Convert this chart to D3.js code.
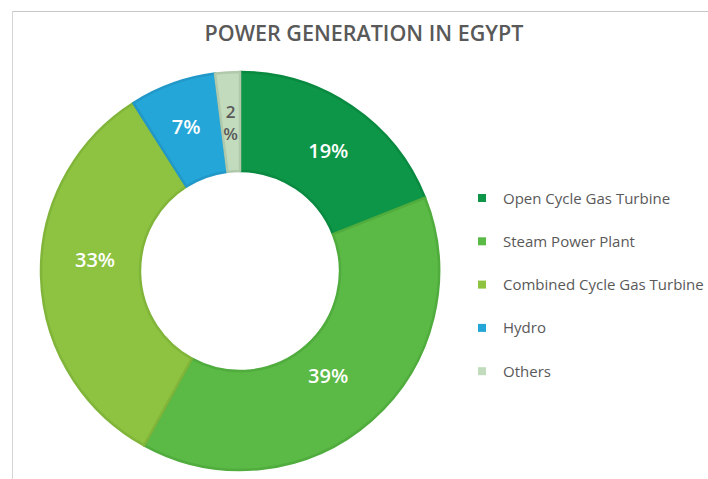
<!DOCTYPE html>
<html>
<head>
<meta charset="utf-8">
<script src="https://cdn.jsdelivr.net/npm/d3@7"></script>
<style>
  html, body { margin: 0; padding: 0; background: #fff; }
  svg { display: block; }
</style>
</head>
<body>
<svg id="chart" width="708" height="479"></svg>
<script>
const categories = ["Open Cycle Gas Turbine", "Steam Power Plant", "Combined Cycle Gas Turbine", "Hydro", "Others"];
const values = [19, 39, 33, 7, 2];
const fills = ["#0d9648", "#5bb946", "#8dc340", "#24a6d8", "#c3dbbd"];
const strokes = ["#0a8a40", "#4fac3d", "#80b53a", "#2198c8", "#b0c9aa"];
const labelColors = ["#ffffff", "#ffffff", "#ffffff", "#ffffff", "#595959"];
const labelNudge = [[4, 4], [-11, -8], [5, -16], [-3, -3], [0, 0]];
const title = "POWER GENERATION IN EGYPT";

const svg = d3.select("#chart");
const font = "'Open Sans', 'Noto Sans', sans-serif";

// frame
svg.append("line").attr("x1", 12).attr("x2", 708).attr("y1", 11.5).attr("y2", 11.5)
  .attr("stroke", "#c6c6c6").attr("stroke-width", 1);
svg.append("line").attr("x1", 12.5).attr("x2", 12.5).attr("y1", 11).attr("y2", 479)
  .attr("stroke", "#d6d6d6").attr("stroke-width", 1);

svg.append("text").attr("x", 364).attr("y", 41).attr("text-anchor", "middle")
  .attr("font-family", font).attr("font-weight", 600).attr("font-size", 21.5)
  .attr("fill", "#595959").text(title);

const cx = 240, cy = 271, rOuter = 199, rInner = 100;
const data = categories.map((c, i) => ({ name: c, value: values[i], i }));
const pie = d3.pie().sort(null).value(d => d.value).startAngle(0).endAngle(2 * Math.PI);
const arcs = pie(data);
const arc = d3.arc().innerRadius(rInner).outerRadius(rOuter);
const labelArc = d3.arc().innerRadius(150).outerRadius(150);

const g = svg.append("g").attr("transform", `translate(${cx},${cy})`);
g.selectAll("path").data(arcs).join("path")
  .attr("d", arc)
  .attr("fill", d => fills[d.data.i])
  .attr("stroke", d => strokes[d.data.i])
  .attr("stroke-width", 2.5)
  .attr("stroke-linejoin", "round");

g.selectAll("text.lbl").data(arcs).join("text")
  .attr("class", "lbl")
  .attr("font-family", font)
  .attr("font-weight", 600)
  .attr("text-anchor", "middle")
  .attr("fill", d => labelColors[d.data.i])
  .each(function(d) {
    let [x, y] = labelArc.centroid(d);
    x += labelNudge[d.data.i][0];
    y += labelNudge[d.data.i][1];
    const t = d3.select(this);
    if (d.data.value < 5) {
      t.attr("font-size", 17);
      t.append("tspan").attr("x", x).attr("y", y - 3).text(String(d.data.value));
      t.append("tspan").attr("x", x).attr("y", y + 19).text("%");
    } else {
      t.attr("font-size", 20);
      t.attr("x", x).attr("y", y + 7).text(d.data.value + "%");
    }
  });

// legend
const legend = svg.append("g");
const rows = legend.selectAll("g").data(data).join("g")
  .attr("transform", (d, i) => `translate(478, ${198 + i * 43.3})`);
rows.append("rect").attr("x", 0).attr("y", -4).attr("width", 8).attr("height", 8)
  .attr("fill", d => fills[d.i]);
rows.append("text").attr("x", 25).attr("y", 5.5)
  .attr("font-family", font).attr("font-size", 15).attr("fill", "#595959")
  .text(d => d.name);
</script>
</body>
</html>
